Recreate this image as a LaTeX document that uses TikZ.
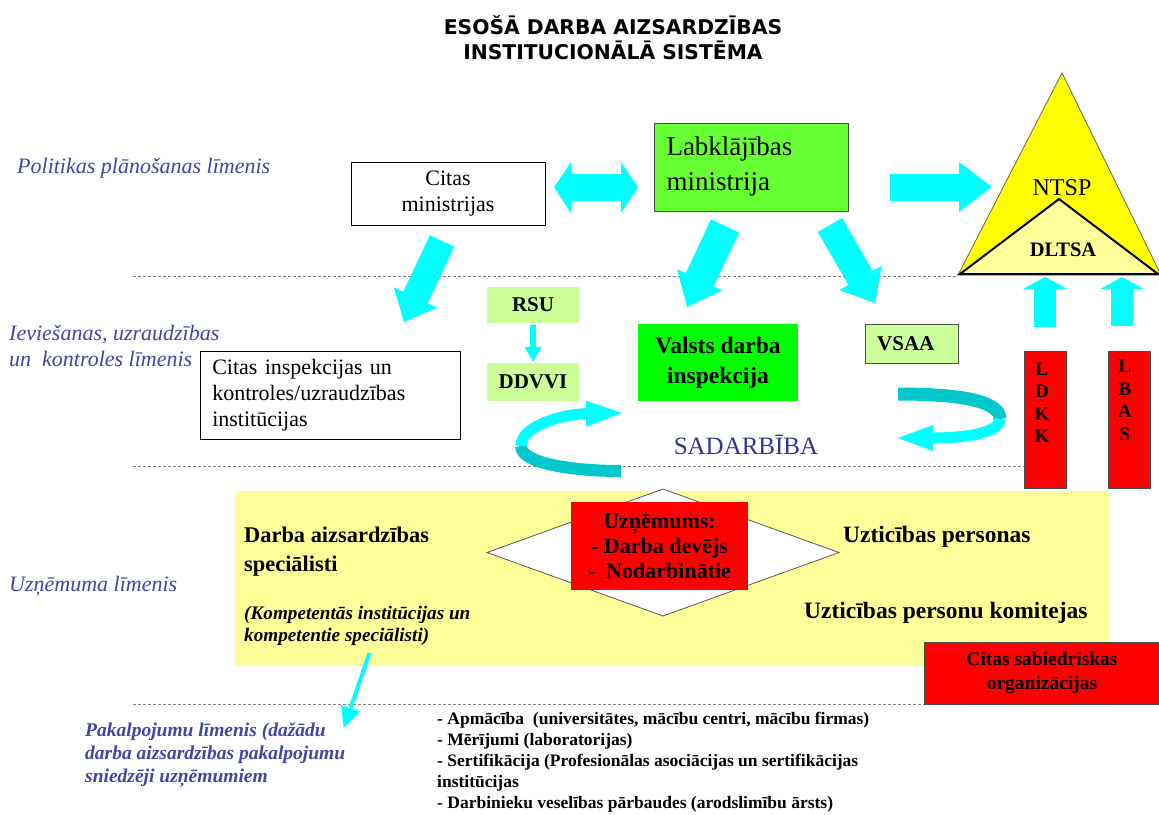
\documentclass[tikz,border=0pt]{standalone}
\usepackage{fontspec}
\setmainfont{Liberation Serif}
\newfontfamily\titlefont{DejaVu Sans}
\usetikzlibrary{arrows.meta,calc}
\definecolor{cy}{HTML}{00FFFF}
\definecolor{cydark}{HTML}{00C8CC}
\definecolor{lvlc}{HTML}{4444A8}
\definecolor{sadc}{HTML}{333399}
\definecolor{lgreen}{HTML}{CCFF99}
\definecolor{mgreen}{HTML}{66FF33}
\definecolor{bgreen}{HTML}{00FF00}
\definecolor{lyel}{HTML}{FFFF99}
\definecolor{yel}{HTML}{FFFF00}
\newcommand\myfs[2]{\fontsize{#1}{#2}\selectfont}
\begin{document}
\begin{tikzpicture}[x=1pt,y=-1pt,
  every node/.style={inner sep=0pt},
  box/.style={draw=black, line width=0.8pt, fill=white},
  lvltext/.style={text=lvlc, anchor=west, align=left, font=\itshape\myfs{22}{25}},
  barrow/.style n args={3}{draw=cy, line width=#1, -{Triangle[width=#2, length=#3, line width=0pt]}},
  dline/.style={draw=gray, line width=0.9pt, dash pattern=on 3pt off 2pt},
  redbox/.style={fill=red, draw=black!70, line width=0.8pt},
]
\useasboundingbox (0,0) rectangle (1159,814);
\fill[white] (0,0) rectangle (1159,814);

% dashed level lines
\coordinate (d1a) at (133,276); \coordinate (d1b) at (958,276);
\coordinate (d2a) at (133,466); \coordinate (d2b) at (1025,466);
\coordinate (d3a) at (133,704); \coordinate (d3b) at (924,704);
\draw[dline] (d1a) -- (d1b);
\draw[dline] (d2a) -- (d2b);
\draw[dline] (d3a) -- (d3b);

% title
\node[font=\titlefont\bfseries\myfs{20.3}{25}, align=center] (title) at (613,37.5)
  {ESOŠĀ DARBA AIZSARDZĪBAS\\INSTITUCIONĀLĀ SISTĒMA};

% level labels
\node[lvltext] (l1) at (17,168) {Politikas plānošanas līmenis};
\node[lvltext, font=\itshape\myfs{22}{26}] (l2) at (9,346) {Ieviešanas, uzraudzības\\un\ \ kontroles līmenis};
\node[lvltext] (l3) at (9,586) {Uzņēmuma līmenis};
\node[lvltext, font=\bfseries\itshape\myfs{19.5}{23}] (l4) at (85,755)
  {Pakalpojumu līmenis (dažādu\\darba aizsardzības pakalpojumu\\sniedzēji uzņēmumiem};

% policy level
\node[box, minimum width=194pt, minimum height=63pt, align=center, font=\myfs{22}{26}] (cmin) at (448,194) {Citas\\ministrijas};
\node[fill=mgreen, draw=black!70, line width=0.8pt, minimum width=194pt, minimum height=88pt,
      text width=170pt, align=left, font=\myfs{27}{35}] (lm) at (751.5,167) {Labklājības\\ministrija};

% triangle
\draw[fill=yel, draw=black!60, line width=0.8pt] (958,275) -- (1062,73) -- (1161,275) -- cycle;
\draw[fill=lyel, draw=black, line width=2pt] (960,274) -- (1059,199) -- (1158,274) -- cycle;
\node[font=\myfs{24}{28}] (ntsp) at (1062,188) {NTSP};
\node[font=\bfseries\myfs{20.5}{24}] (dltsa) at (1063,250) {DLTSA};

% implementation level
\node[fill=lgreen, minimum width=92pt, minimum height=36pt, font=\bfseries\myfs{21}{24}] (rsu) at (533,305) {RSU};
\node[fill=lgreen, minimum width=92pt, minimum height=38pt, font=\bfseries\myfs{21}{24}] (ddvvi) at (533,382) {DDVVI};
\node[fill=bgreen, minimum width=160pt, minimum height=77pt, align=center, font=\bfseries\myfs{23.5}{30}] (vdi) at (718,362.5) {Valsts darba\\inspekcija};
\node[fill=lgreen, draw=black!70, line width=0.8pt, minimum width=93pt, minimum height=39pt] (vsaa) at (911.5,343.5) {};
\node[anchor=west, font=\bfseries\myfs{21}{24}] (vsaat) at (877,343.5) {VSAA};
\node[box, minimum width=260pt, minimum height=88pt, text width=237pt, align=left, font=\myfs{22}{26}] (cins) at (330.75,395)
  {Citas inspekcijas un\\kontroles/uzraudzības\\institūcijas};
\node[redbox, minimum width=42pt, minimum height=137pt] (ldkk) at (1045.5,420) {};
\node[align=center, font=\bfseries\myfs{19}{22.5}] (ldkkt) at (1042,403) {L\\D\\K\\K};
\node[redbox, minimum width=42pt, minimum height=137pt] (lbas) at (1129,420) {};
\node[align=center, font=\bfseries\myfs{19}{22.5}] (lbast) at (1125,400.5) {L\\B\\A\\S};
\node[text=sadc, font=\myfs{25}{30}] (sad) at (746,445) {SADARBĪBA};

% enterprise level
\node[fill=lyel, minimum width=873.6pt, minimum height=175pt] (ent) at (672,578.5) {};
\draw[fill=white, draw=black!65, line width=0.8pt] (663,489) -- (839,552.5) -- (663,616) -- (487,552.5) -- cycle;
\node[fill=red, minimum width=177pt, minimum height=88pt, align=center, font=\bfseries\myfs{22}{25}] (uzn) at (659.5,546)
  {Uzņēmums:\\- Darba devējs\\-\ \ Nodarbinātie};
\node[anchor=west, align=left, font=\bfseries\myfs{22.4}{29}] (das) at (244,551.5) {Darba aizsardzības\\speciālisti};
\node[anchor=west, align=left, font=\bfseries\itshape\myfs{19.2}{22}] (komp) at (244,626) {(Kompetentās institūcijas un\\kompetentie speciālisti)};
\node[anchor=west, font=\bfseries\myfs{23.5}{28}] (utp) at (843,537) {Uzticības personas};
\node[anchor=west, font=\bfseries\myfs{23.5}{28}] (utk) at (804,613) {Uzticības personu komitejas};
\node[redbox, minimum width=236pt, minimum height=62pt, align=center, font=\bfseries\myfs{19.5}{24}] (csab) at (1042,673)
  {Citas sabiedriskas\\organizācijas};

% services list
\node[anchor=west, align=left, font=\bfseries\myfs{17.5}{21}] (svc) at (437,762.5)
  {- Apmācība\ \ (universitātes, mācību centri, mācību firmas)\\
   - Mērījumi (laboratorijas)\\
   - Sertifikācija (Profesionālas asociācijas un sertifikācijas\\
   institūcijas\\
   - Darbinieku veselības pārbaudes (arodslimību ārsts)};

% block arrows
\coordinate (a1s) at (554,187.5); \coordinate (a1e) at (638,187.5);
\draw[draw=cy, line width=27pt, {Triangle[width=51pt,length=17pt,line width=0pt]}-{Triangle[width=51pt,length=17pt,line width=0pt]}] (a1s) -- (a1e);
\coordinate (a2s) at (890,187); \coordinate (a2e) at (992,187);
\draw[barrow={27pt}{50pt}{33pt}] (a2s) -- (a2e);
\coordinate (a3s) at (442,241); \coordinate (a3e) at (404,322);
\draw[barrow={27pt}{48pt}{27pt}] (a3s) -- (a3e);
\coordinate (a4s) at (725,226); \coordinate (a4e) at (687,307);
\draw[barrow={31pt}{50pt}{30pt}] (a4s) -- (a4e);
\coordinate (a5s) at (830,225); \coordinate (a5e) at (875,303);
\draw[barrow={28pt}{49pt}{29pt}] (a5s) -- (a5e);
\coordinate (a6s) at (1045,327); \coordinate (a6e) at (1045,277);
\draw[barrow={22pt}{44pt}{12pt}] (a6s) -- (a6e);
\coordinate (a7s) at (1122,326); \coordinate (a7e) at (1122,277);
\draw[barrow={22pt}{43pt}{12pt}] (a7s) -- (a7e);
\draw[barrow={6pt}{17pt}{15pt}] ([yshift=-2pt]rsu.south) -- ([yshift=1pt]ddvvi.north);
\coordinate (a8s) at (369.5,653); \coordinate (a8e) at (343.7,728);
\draw[barrow={4pt}{20pt}{21pt}] (a8s) -- (a8e);

% cooperation ribbons
\coordinate (r1s) at (621,471);
\coordinate (r1m) at (521,446);
\coordinate (r1e) at (622,413);
\draw[draw=cydark, line width=12pt] (r1s) .. controls (575,471) and (521,464) .. (r1m);
\draw[draw=cy, line width=11pt, -{Triangle[width=26pt,length=36pt,line width=0pt]}] (r1m) .. controls (521,425) and (565,414) .. (r1e);
\coordinate (r2s) at (898,394);
\coordinate (r2m) at (1000,419);
\coordinate (r2e) at (898,438);
\draw[draw=cydark, line width=13pt] (r2s) .. controls (965,394) and (1000,402) .. (r2m);
\draw[draw=cy, line width=11pt, -{Triangle[width=26pt,length=35pt,line width=0pt]}] (r2m) .. controls (1000,434) and (960,438) .. (r2e);
\end{tikzpicture}
\end{document}
